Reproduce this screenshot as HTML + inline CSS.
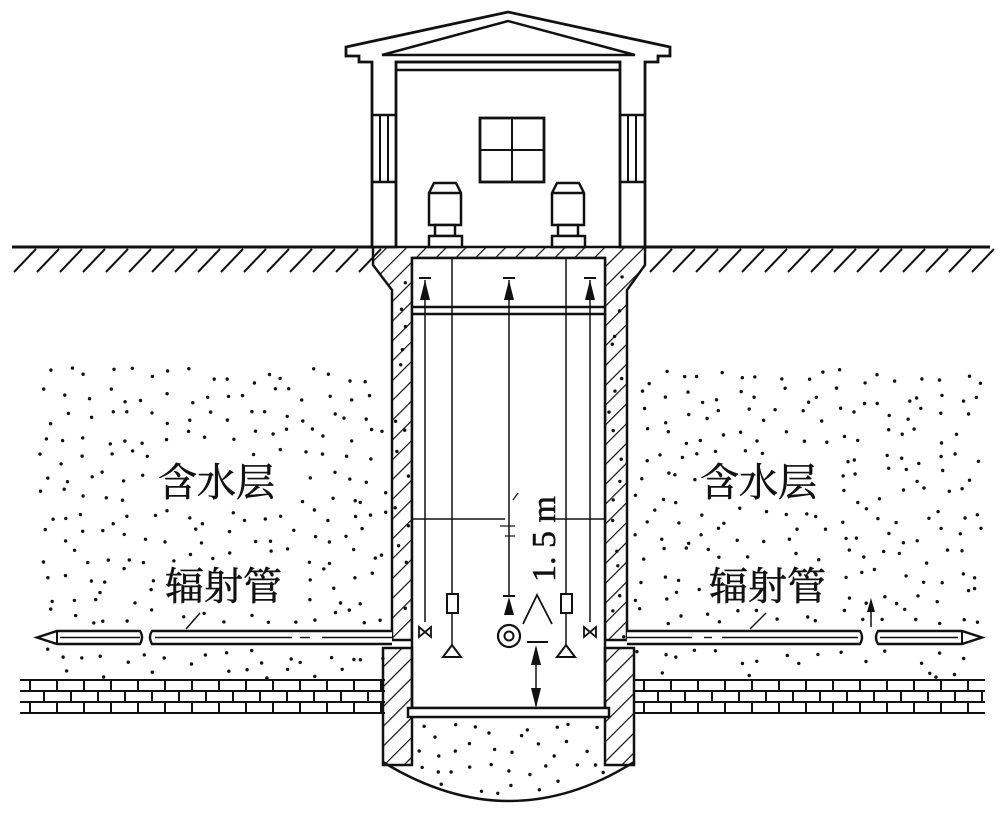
<!DOCTYPE html>
<html><head><meta charset="utf-8"><style>html,body{margin:0;padding:0;background:#fff}svg{display:block}text{font-family:"Liberation Serif","Noto Serif CJK SC","Noto Sans CJK SC",serif;fill:#111}</style></head>
<body>
<svg id="s" width="1000" height="818" viewBox="0 0 1000 818" xmlns="http://www.w3.org/2000/svg" stroke="#111" fill="none" stroke-width="2">
<defs>
<pattern id="h" width="14" height="14" patternUnits="userSpaceOnUse" patternTransform="rotate(45)"><line x1="0" y1="0" x2="0" y2="14" stroke="#111" stroke-width="2.4"/></pattern>
</defs>
<g id="dots" stroke="none" fill="#111"></g>
<!-- ground -->
<line x1="12" y1="247" x2="373" y2="247" stroke-width="3"/>
<line x1="640" y1="247" x2="990" y2="247" stroke-width="3"/>
<g id="gh" stroke-width="2"></g>
<!-- bricks -->
<g id="br" stroke-width="2"></g>
<!-- well walls -->
<path d="M373 247 L373 265 L392 290 L392 640 L412 640 L412 258 L605 258 L605 640 L627 640 L627 290 L645 265 L645 247 Z" fill="url(#h)" stroke-width="2.5"/>
<rect x="412" y="258" width="193" height="450" fill="#fff" stroke-width="2.5"/>
<path d="M383 648 L412 648 L412 765 L383 765 Z" fill="url(#h)" stroke-width="2.5"/>
<path d="M605 648 L634 648 L634 765 L605 765 Z" fill="url(#h)" stroke-width="2.5"/>
<path d="M383 762 Q510 840 634 762" fill="none" stroke-width="2.5"/>
<rect x="408" y="708" width="201" height="9" fill="#fff" stroke-width="2.5"/>
<g id="dots2" stroke="none" fill="#111"></g>
<!-- interior lines -->
<line x1="412" y1="307" x2="605" y2="307" stroke-width="2.5"/>
<line x1="412" y1="314" x2="605" y2="314" stroke-width="2.5"/>
<line x1="412" y1="519" x2="505" y2="519" stroke-width="1.5"/>
<line x1="555" y1="519" x2="605" y2="519" stroke-width="1.5"/>
<line x1="425" y1="280" x2="425" y2="622" stroke-width="1.5"/>
<line x1="590" y1="280" x2="590" y2="622" stroke-width="1.5"/>
<line x1="452" y1="258" x2="452" y2="594" stroke-width="1.5"/>
<line x1="566" y1="258" x2="566" y2="594" stroke-width="1.5"/>
<line x1="509" y1="280" x2="509" y2="596" stroke-width="1.5"/>
<g fill="#111" stroke="none">
<path d="M425 280 L420 300 L430 300 Z"/><path d="M509 280 L504 300 L514 300 Z"/><path d="M590 280 L585 300 L595 300 Z"/>
<path d="M509 597 L504 615 L514 615 Z"/>
</g>
<line x1="419" y1="278" x2="431" y2="278"/><line x1="503" y1="278" x2="515" y2="278"/><line x1="584" y1="278" x2="596" y2="278"/>
<line x1="503" y1="596" x2="515" y2="596"/>
<line x1="500" y1="526" x2="515" y2="526" stroke-width="1.2"/><line x1="505" y1="536" x2="515" y2="536" stroke-width="1.2"/>
<path d="M513 500 L518 493" stroke-width="1.2"/>
<rect x="447" y="594" width="11" height="19" stroke-width="2"/>
<rect x="561" y="594" width="11" height="19" stroke-width="2"/>
<line x1="452" y1="613" x2="452" y2="645" stroke-width="1.5"/><line x1="566" y1="613" x2="566" y2="645" stroke-width="1.5"/>
<path d="M443 657 L452 645 L461 657 Z"/><path d="M557 657 L566 645 L575 657 Z"/>
<path d="M419 627 L431 637 L431 627 L419 637 Z" stroke-width="1.8"/>
<path d="M584 627 L596 637 L596 627 L584 637 Z" stroke-width="1.8"/>
<circle cx="509" cy="636" r="11" stroke-width="2.2"/><circle cx="509" cy="636" r="4.5" stroke-width="2"/>
<path d="M523 624 L537 595 L552 624" stroke-width="1.8"/>
<line x1="527" y1="642" x2="548" y2="642" stroke-width="2"/>
<line x1="536" y1="648" x2="536" y2="706" stroke-width="1.5"/>
<g fill="#111" stroke="none"><path d="M536 645 L531 665 L541 665 Z"/><path d="M536 708 L531 688 L541 688 Z"/></g>
<text x="0" y="0" transform="translate(555,582) rotate(-90)" font-size="34" stroke="#111" stroke-width="0.5">1. 5 m</text>
<!-- pipes -->
<g stroke-width="2.4" fill="#fff">
<path d="M392 631 L152 631 Q148 637 152 644 L392 644"/>
<path d="M140 631 L57 631 L37 637.5 L57 644 L140 644 Q144 637 140 631 Z"/>
<path d="M627 631 L860 631 Q864 637 860 644 L627 644"/>
<path d="M878 631 L962 631 L982 637.5 L962 644 L878 644 Q874 637 878 631 Z"/>
</g>
<line x1="57" y1="631" x2="57" y2="644" stroke-width="2"/><line x1="962" y1="631" x2="962" y2="644" stroke-width="2"/>
<line x1="60" y1="637.5" x2="140" y2="637.5" stroke-width="1.4"/>
<line x1="155" y1="637.5" x2="292" y2="637.5" stroke-width="1.4"/><line x1="300" y1="637.5" x2="310" y2="637.5" stroke-width="1.4"/><line x1="322" y1="637.5" x2="392" y2="637.5" stroke-width="1.4"/>
<line x1="627" y1="637.5" x2="692" y2="637.5" stroke-width="1.4"/><line x1="704" y1="637.5" x2="712" y2="637.5" stroke-width="1.4"/><line x1="722" y1="637.5" x2="858" y2="637.5" stroke-width="1.4"/>
<line x1="880" y1="637.5" x2="958" y2="637.5" stroke-width="1.4"/>
<line x1="186" y1="629" x2="200" y2="613" stroke-width="1.5"/>
<line x1="750" y1="629" x2="766" y2="613" stroke-width="1.5"/>
<line x1="871" y1="627" x2="871" y2="610" stroke-width="1.5"/><path d="M871 598 L867 612 L875 612 Z" fill="#111" stroke="none"/>
<!-- house -->
<g stroke-width="2.8" fill="#fff">
<path d="M346 47 L508 12 L670 47 L670 56 L658 56 L658 62 L645 62 L645 247 L620 247 L620 62 L396 62 L396 247 L372 247 L372 62 L359 62 L359 56 L346 56 Z"/>
</g>
<path d="M382 55 L508 21 L635 55 Z" stroke-width="2.5"/>
<line x1="396" y1="62" x2="620" y2="62" stroke-width="2.5"/><line x1="396" y1="70" x2="620" y2="70" stroke-width="2.5"/>
<line x1="372" y1="115" x2="396" y2="115" stroke-width="2.5"/><line x1="372" y1="182" x2="396" y2="182" stroke-width="2.5"/>
<line x1="380" y1="115" x2="380" y2="182"/><line x1="388" y1="115" x2="388" y2="182"/>
<line x1="620" y1="115" x2="645" y2="115" stroke-width="2.5"/><line x1="620" y1="182" x2="645" y2="182" stroke-width="2.5"/>
<line x1="628" y1="115" x2="628" y2="182"/><line x1="636" y1="115" x2="636" y2="182"/>
<rect x="480" y="118" width="64" height="64" stroke-width="2.8"/>
<line x1="512" y1="118" x2="512" y2="182" stroke-width="2"/><line x1="480" y1="150" x2="544" y2="150" stroke-width="2"/>
<g stroke-width="2.5" fill="#fff">
<path d="M434 183 L456 183 L461 193 L461 225 L429 225 L429 193 Z"/><line x1="429" y1="193" x2="461" y2="193"/>
<rect x="435" y="225" width="20" height="11"/><rect x="429" y="236" width="33" height="11"/>
<path d="M557 183 L579 183 L584 193 L584 225 L552 225 L552 193 Z"/><line x1="552" y1="193" x2="584" y2="193"/>
<rect x="558" y="225" width="20" height="11"/><rect x="552" y="236" width="33" height="11"/>
</g>
<!-- labels -->
<g font-size="39" stroke="#111" stroke-width="0.6">
<text x="158" y="496" style="font-family:'Noto Serif CJK SC',serif">含水层</text>
<text x="700" y="496" style="font-family:'Noto Serif CJK SC',serif">含水层</text>
<text x="165" y="600" style="font-family:'Noto Serif CJK SC',serif">辐射管</text>
<text x="709" y="600" style="font-family:'Noto Serif CJK SC',serif">辐射管</text>
</g>
</svg>
<script>
var NS="http://www.w3.org/2000/svg";
function el(p,t,a){var e=document.createElementNS(NS,t);for(var k in a)e.setAttribute(k,a[k]);p.appendChild(e);}
var seed=123456789;function r(){seed^=seed<<13;seed^=seed>>>17;seed^=seed<<5;return ((seed>>>0)%100000)/100000;}
var d=document.getElementById('dots'),d2=document.getElementById('dots2');
function grid(g,x0,y0,x1,y1,s,skip){for(var y=y0;y<y1;y+=s)for(var x=x0;x<x1;x+=s){var px=x+r()*s*0.8,py=y+r()*s*0.8;if(px>x1||py>y1)continue;if(skip&&skip(px,py))continue;el(g,'circle',{cx:px.toFixed(1),cy:py.toFixed(1),r:1.7});}}
function txt(x,y){return (y>455&&y<505&&((x>150&&x<295)||(x>695&&x<840)))||(y>562&&y<610&&((x>160&&x<305)||(x>705&&x<845)))||(y>626&&y<649);}
grid(d,40,368,386,678,20,txt);
grid(d,634,368,985,678,20,txt);
grid(d2,394,275,410,638,22);grid(d2,607,275,625,638,22);
grid(d2,412,722,605,808,19,function(x,y){var t=(x-383)/251;var yb=762+2*t*(1-t)*78;return y>yb-5;});
var g=document.getElementById('gh');
for(var x=14;x<366;x+=23)el(g,'line',{x1:x,y1:272,x2:x+22,y2:249});
for(var x=650;x<985;x+=23)el(g,'line',{x1:x,y1:272,x2:x+22,y2:249});
var b=document.getElementById('br');
function bricks(x0,x1){var ys=[680,691,702,713];ys.forEach(function(y){el(b,'line',{x1:x0,y1:y,x2:x1,y2:y});});
for(var row=0;row<3;row++){var off=row%2?14:0;for(var x=x0+off+10;x<x1;x+=27)el(b,'line',{x1:x,y1:ys[row],x2:x,y2:ys[row+1]});}}
bricks(20,385);bricks(634,985);
</script>
</body></html>
